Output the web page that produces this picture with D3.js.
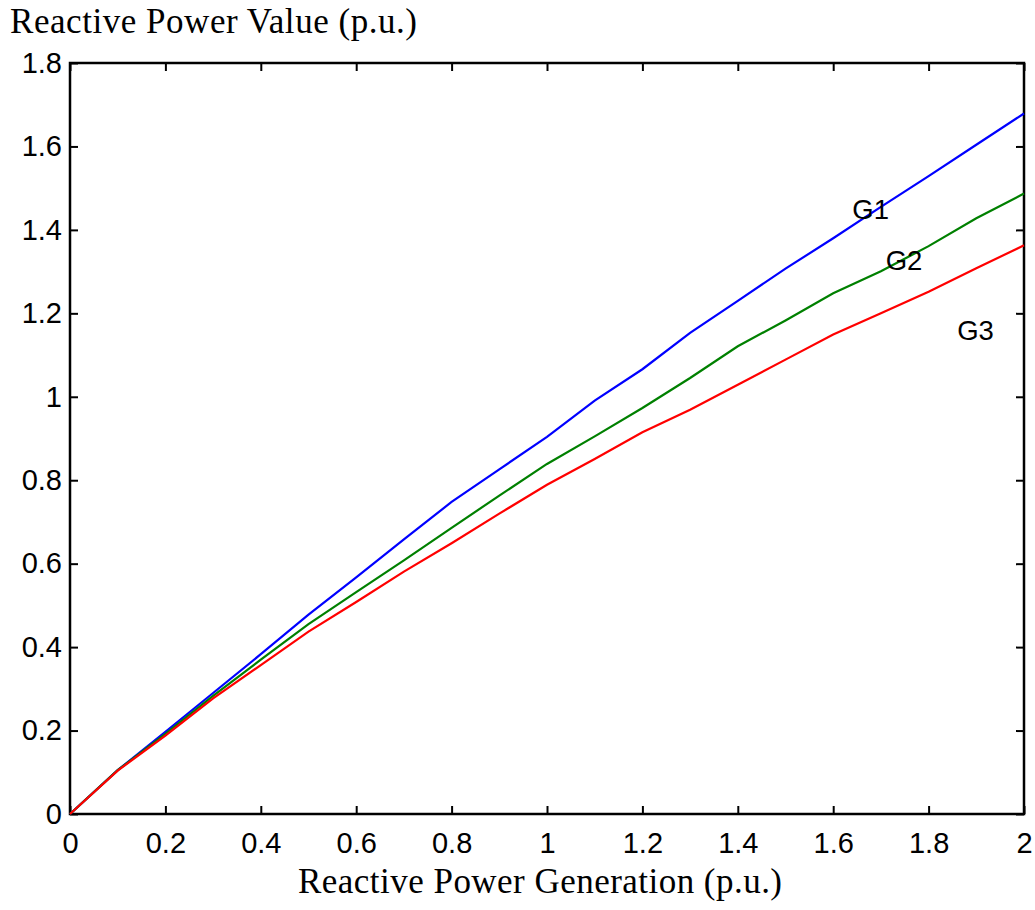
<!DOCTYPE html>
<html>
<head>
<meta charset="utf-8">
<script src="https://cdn.jsdelivr.net/npm/d3@7"></script>
<style>
  body { margin: 0; background: #fff; }
  .tick text { font-family: "Liberation Sans", Arial, sans-serif; font-size: 29px; fill: #000; }
</style>
</head>
<body>
<div id="chart"></div>
<script>
// generation levels (x) and reactive power values for each generator
let xValues = [0, 0.1, 0.2, 0.3, 0.4, 0.5, 0.6, 0.7, 0.8, 0.9, 1.0,
               1.1, 1.2, 1.3, 1.4, 1.5, 1.6, 1.7, 1.8, 1.9, 2.0]
let g1Values = [0, 0.105, 0.197, 0.290, 0.383, 0.478, 0.567, 0.658, 0.748, 0.826, 0.904,
                0.991, 1.066, 1.153, 1.230, 1.307, 1.380, 1.455, 1.529, 1.604, 1.679]
let g2Values = [0, 0.105, 0.192, 0.283, 0.370, 0.455, 0.532, 0.608, 0.686, 0.763, 0.839,
                0.905, 0.973, 1.045, 1.121, 1.183, 1.248, 1.301, 1.361, 1.428, 1.487]
let g3Values = [0, 0.104, 0.188, 0.277, 0.357, 0.437, 0.508, 0.581, 0.649, 0.720, 0.789,
                0.851, 0.915, 0.969, 1.029, 1.089, 1.149, 1.200, 1.252, 1.308, 1.363]
let seriesNames = ["G1", "G2", "G3"]
let seriesColors = ["#0000ff", "#008000", "#ff0000"]

let xTicks = [0, 0.2, 0.4, 0.6, 0.8, 1, 1.2, 1.4, 1.6, 1.8, 2]
let yTicks = [0, 0.2, 0.4, 0.6, 0.8, 1, 1.2, 1.4, 1.6, 1.8]

// label anchors in data units
let labelX = [1.64, 1.71, 1.86]
let labelY = [1.425, 1.305, 1.135]

let width = 1035, height = 910
let mLeft = 70, mRight = 1024, mTop = 63, mBottom = 814

let svg = d3.select("#chart")
  .append("svg")
  .attr("width", width)
  .attr("height", height)

let x = d3.scaleLinear().domain([0, 2]).range([mLeft, mRight])
let y = d3.scaleLinear().domain([0, 1.8]).range([mBottom, mTop])

// axes: ticks point inward on all four sides
let fmt = d => d3.format("~g")(d)

svg.append("g")
  .attr("transform", `translate(0,${mBottom})`)
  .call(d3.axisBottom(x).tickValues(xTicks).tickFormat(fmt).tickSize(-8).tickSizeOuter(0).tickPadding(18))
svg.append("g")
  .attr("transform", `translate(0,${mTop})`)
  .call(d3.axisTop(x).tickValues(xTicks).tickFormat("").tickSize(-8).tickSizeOuter(0))
svg.append("g")
  .attr("transform", `translate(${mLeft},0)`)
  .call(d3.axisLeft(y).tickValues(yTicks).tickFormat(fmt).tickSize(-8).tickSizeOuter(0).tickPadding(8))
svg.append("g")
  .attr("transform", `translate(${mRight},0)`)
  .call(d3.axisRight(y).tickValues(yTicks).tickFormat("").tickSize(-8).tickSizeOuter(0))

svg.selectAll(".domain").remove()
svg.selectAll(".tick line").attr("stroke", "#000").attr("stroke-width", 2)

// frame
svg.append("rect")
  .attr("x", mLeft).attr("y", mTop)
  .attr("width", mRight - mLeft).attr("height", mBottom - mTop)
  .attr("fill", "none").attr("stroke", "#000").attr("stroke-width", 2.5)

// curves
let series = [g1Values, g2Values, g3Values]
let line = d3.line()
  .x((d, i) => x(xValues[i]))
  .y(d => y(d))

svg.selectAll("path.curve")
  .data(series)
  .enter()
  .append("path")
  .attr("class", "curve")
  .attr("d", line)
  .attr("fill", "none")
  .attr("stroke", (d, i) => seriesColors[i])
  .attr("stroke-width", 2.2)

// series labels
svg.selectAll("text.lbl")
  .data(seriesNames)
  .enter()
  .append("text")
  .attr("class", "lbl")
  .attr("x", (d, i) => x(labelX[i]))
  .attr("y", (d, i) => y(labelY[i]))
  .attr("font-family", "Liberation Sans, Arial, sans-serif")
  .attr("font-size", 27.5)
  .text(d => d)

// axis titles
svg.append("text")
  .attr("x", 10).attr("y", 33)
  .attr("font-family", "Liberation Serif, Times New Roman, serif")
  .attr("font-size", 35)
  .attr("textLength", 407)
  .attr("lengthAdjust", "spacing")
  .text("Reactive Power Value (p.u.)")

svg.append("text")
  .attr("x", 298).attr("y", 893)
  .attr("font-family", "Liberation Serif, Times New Roman, serif")
  .attr("font-size", 35)
  .attr("textLength", 484)
  .attr("lengthAdjust", "spacing")
  .text("Reactive Power Generation (p.u.)")
</script>
</body>
</html>
